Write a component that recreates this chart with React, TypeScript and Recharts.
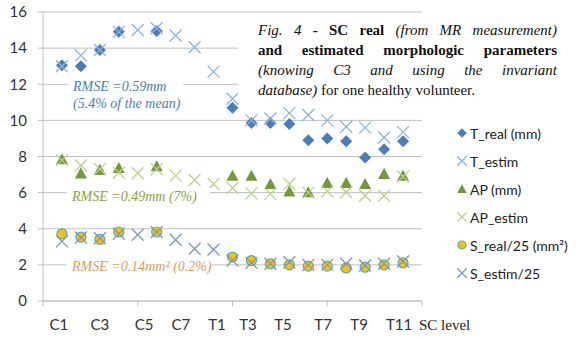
import React from 'react';
import { ScatterChart, Scatter, XAxis, YAxis, CartesianGrid } from 'recharts';

// spinal cord levels, x = 1..19
const levels = ['C1', 'C2', 'C3', 'C4', 'C5', 'C6', 'C7', 'T1', 'T2', 'T3', 'T4', 'T5', 'T6', 'T7', 'T8', 'T9', 'T10', 'T11', 'T12'];

const tReal = [13.05, 13.0, 13.9, 14.9, null, 14.95, null, null, null, 10.7, 9.85, 9.85, 9.8, 8.9, 9.0, 8.85, 7.95, 8.4, 8.85];
const tEstim = [13.0, 13.6, 13.9, 14.9, 15.0, 15.1, 14.7, 14.05, 12.7, 11.2, 10.0, 10.1, 10.4, 10.3, 10.0, 9.65, 9.6, 9.05, 9.35];
const apReal = [7.85, 7.07, 7.26, 7.37, null, 7.47, null, null, null, 6.94, 6.94, 6.48, 6.07, 6.02, 6.54, 6.54, 6.48, 7.04, 6.94];
const apEstim = [7.8, 7.5, 7.3, 7.1, 7.07, 7.3, 6.94, 6.7, 6.48, 6.26, 5.96, 5.93, 6.48, 6.0, 6.07, 6.02, 5.83, 5.83, 6.89];
const sReal = [3.72, 3.54, 3.41, 3.82, null, 3.82, null, null, null, 2.43, 2.24, 2.06, 2.0, 1.93, 1.93, 1.83, 1.87, 2.0, 2.11];
const sEstim = [3.3, 3.52, 3.47, 3.72, 3.67, 3.82, 3.39, 2.89, 2.85, 2.24, 2.11, 2.06, 2.15, 2.0, 2.0, 2.06, 1.97, 2.06, 2.19];

// hand placed level labels under the axis (as in the original figure)
const levelLabels = ['C1', 'C3', 'C5', 'C7', 'T1', 'T3', 'T5', 'T7', 'T9', 'T11'];
const levelLabelPos = [0.84, 3.0, 5.33, 7.28, 9.18, 10.82, 12.66, 14.78, 16.68, 18.79];
const majorTicks = [0, 5, 10, 15, 20];
const yTicks = [0, 2, 4, 6, 8, 10, 12, 14, 16];

const GRID = '#c0c0c0';
const SANS = 'Lato, "Open Sans", sans-serif';
const SERIF = '"Liberation Serif", "Times New Roman", serif';

const toPoints = (vals: (number | null)[]) =>
  vals.map((v, i) => ({ x: i + 1, y: v, level: levels[i] })).filter((p) => p.y != null);

type Kind = 'diamond' | 'x' | 'triangle' | 'circle';

function marker(kind: Kind, cx: number, cy: number, color: string, s = 1) {
  if (kind === 'diamond') {
    const r = 6 * s;
    return <path d={`M${cx},${cy - r}L${cx + r},${cy}L${cx},${cy + r}L${cx - r},${cy}Z`} fill={color} />;
  }
  if (kind === 'triangle') {
    const r = 6 * s;
    return <path d={`M${cx},${cy - r}L${cx + r},${cy + r * 0.85}L${cx - r},${cy + r * 0.85}Z`} fill={color} />;
  }
  if (kind === 'circle') {
    return <circle cx={cx} cy={cy} r={5 * s} fill="#ffc000" stroke={color} strokeWidth={1.2} />;
  }
  const r = 6 * s;
  return (
    <path
      d={`M${cx - r},${cy - r}L${cx + r},${cy + r}M${cx - r},${cy + r}L${cx + r},${cy - r}`}
      stroke={color}
      strokeWidth={1.3}
      fill="none"
    />
  );
}

const series = [
  { name: 'T_real (mm)', values: tReal, kind: 'diamond' as Kind, color: '#4a7ebb' },
  { name: 'T_estim', values: tEstim, kind: 'x' as Kind, color: '#8db3e2' },
  { name: 'AP (mm)', values: apReal, kind: 'triangle' as Kind, color: '#77983a' },
  { name: 'AP_estim', values: apEstim, kind: 'x' as Kind, color: '#bcd18f' },
  { name: 'S_real/25 (mm²)', values: sReal, kind: 'circle' as Kind, color: '#4bacc6' },
  { name: 'S_estim/25', values: sEstim, kind: 'x' as Kind, color: '#8197b8' },
];

function LevelTick(props: any) {
  const { x, y, payload } = props;
  const v = payload.value;
  const i = levelLabelPos.indexOf(v);
  return (
    <g>
      {majorTicks.includes(v) && <line x1={x} x2={x} y1={y} y2={y + 5} stroke={GRID} />}
      {i >= 0 && (
        <text x={x} y={y + 29} textAnchor="middle" fill="#333" fontSize={15} fontFamily={SANS}>
          {levelLabels[i]}
        </text>
      )}
    </g>
  );
}

const rmseStyle: React.CSSProperties = {
  position: 'absolute',
  background: '#fff',
  fontFamily: SERIF,
  fontStyle: 'italic',
  fontSize: 14,
  paddingLeft: 5,
  boxSizing: 'border-box',
  whiteSpace: 'nowrap',
};

const justLine: React.CSSProperties = { display: 'block', textAlign: 'justify', textAlignLast: 'justify' };

export default function App() {
  const allTicks = [...majorTicks, ...levelLabelPos].sort((a, b) => a - b);
  return (
    <div style={{ position: 'absolute', left: 0, top: 0, width: 580, height: 339, background: '#fff', overflow: 'hidden' }}>
      <ScatterChart width={580} height={339} margin={{ top: 12, right: 158, left: 8, bottom: 8 }}>
        <CartesianGrid vertical={false} stroke={GRID} />
        <XAxis
          type="number"
          dataKey="x"
          domain={[0, 20]}
          ticks={allTicks}
          interval={0}
          height={30}
          tickSize={0}
          tickMargin={0}
          tickLine={false}
          axisLine={{ stroke: GRID }}
          tick={<LevelTick />}
        />
        <YAxis
          type="number"
          dataKey="y"
          domain={[0, 16]}
          ticks={yTicks}
          width={35}
          tickSize={5}
          tickMargin={11}
          tickLine={{ stroke: GRID }}
          axisLine={{ stroke: GRID }}
          tick={{ fill: '#333', fontSize: 15, fontFamily: SANS }}
        />
        {series.map((s) => (
          <Scatter
            key={s.name}
            name={s.name}
            data={toPoints(s.values)}
            isAnimationActive={false}
            shape={(p: any) => marker(s.kind, p.cx, p.cy, s.color)}
          />
        ))}
      </ScatterChart>

      {/* legend */}
      <div style={{ position: 'absolute', left: 455, top: 119, fontFamily: SANS, fontSize: 14, color: '#222' }}>
        {series.map((s) => (
          <div key={s.name} style={{ height: 28, display: 'flex', alignItems: 'center', whiteSpace: 'nowrap' }}>
            <svg width={14} height={14} style={{ marginRight: 1 }}>
              {marker(s.kind, 7, 7, s.color, 0.8)}
            </svg>
            <span>{s.name}</span>
          </div>
        ))}
      </div>

      {/* caption */}
      <div style={{ position: 'absolute', left: 238, top: 18, width: 342, height: 84, background: '#fff' }}>
        <div style={{ position: 'absolute', left: 20, top: 2, width: 299, fontFamily: SERIF, fontSize: 15, lineHeight: '20px', color: '#111' }}>
          <span style={justLine}>
            <i>Fig. 4</i> <b>- SC real</b> <i>(from MR measurement)</i>
          </span>
          <span style={justLine}>
            <b>and estimated morphologic parameters</b>
          </span>
          <span style={justLine}>
            <i>(knowing C3 and using the invariant</i>
          </span>
          <span style={{ display: 'block' }}>
            <i>database)</i> for one healthy volunteer.
          </span>
        </div>
      </div>

      {/* RMSE notes */}
      <div style={{ ...rmseStyle, left: 68, top: 78, width: 115, lineHeight: '17px', color: '#4a7ebb' }}>
        RMSE =0.59mm
        <br />
        (5.4% of the mean)
      </div>
      <div style={{ ...rmseStyle, left: 67, top: 188, width: 143, lineHeight: '18px', color: '#8ea23e' }}>
        RMSE =0.49mm (7%)
      </div>
      <div style={{ ...rmseStyle, left: 67, top: 258, width: 145, lineHeight: '18px', color: '#e39b5c' }}>
        RMSE =0.14mm² (0.2%)
      </div>

      <div style={{ position: 'absolute', left: 419, top: 316, fontFamily: SERIF, fontSize: 15, lineHeight: '18px', color: '#222', whiteSpace: 'nowrap' }}>
        SC level
      </div>
    </div>
  );
}
